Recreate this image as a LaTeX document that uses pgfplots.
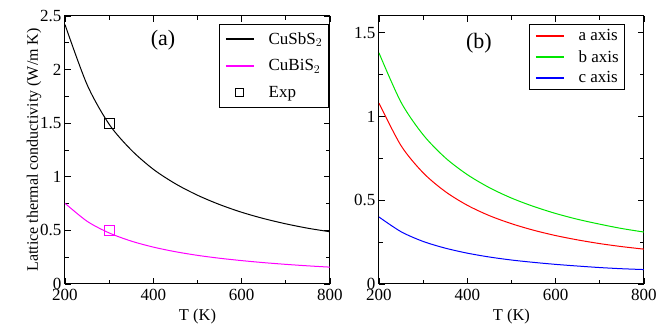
\documentclass[border=0pt]{standalone}
\usepackage{pgfplots}
\pgfplotsset{compat=1.18}
\usepackage{fontspec}
\setmainfont{Liberation Serif}
\definecolor{mag}{RGB}{255,0,255}
\definecolor{rr}{RGB}{255,0,0}
\definecolor{gg}{RGB}{0,230,0}
\definecolor{bb}{RGB}{0,0,255}
\begin{document}
\begin{tikzpicture}[x=1pt,y=1pt]
\pgfplotsset{
  every axis/.append style={
    scale only axis,
    width=265pt, height=268pt,
    xmin=200, xmax=800,
    xtick={200,400,600,800},
    minor xtick={300,500,700},
    tick align=inside,
    major tick length=6pt, minor tick length=4pt,
    tick style={black, line width=0.8pt},
    axis line style={line width=1pt},
    ticklabel style={font=\fontsize{17}{19}\selectfont},
    xticklabel style={yshift=-2pt},
    label style={font=\fontsize{16.5}{18}\selectfont},
    /pgf/number format/assume math mode=true,
    xlabel={T (K)},
    xlabel style={yshift=-1pt},
    legend cell align=left,
    legend style={font=\fontsize{17}{19}\selectfont, inner xsep=4pt, inner ysep=1pt, line width=0.8pt},
  }
}
\begin{axis}[
  at={(65pt,46pt)}, anchor=south west,
  ymin=0, ymax=2.5,
  ytick={0,0.5,1,1.5,2,2.5},
  yticklabels={0,0.5,1,1.5,2,2.5},
  minor ytick={0.25,0.75,1.25,1.75,2.25},
  ylabel={Lattice thermal conductivity (W/m K)},
  ylabel style={yshift=-8pt, font=\fontsize{16}{18}\selectfont},
  legend style={at={(0.995,0.97)}, anchor=north east},
  legend image code/.code={\path[draw=none] (-2pt,-13.5pt) rectangle (28pt,13.5pt); \draw[#1, line width=1.5pt] (0pt,0pt) -- (28pt,0pt);},
]
\addplot[black, line width=1pt, smooth] coordinates {
(200,2.42)(250,1.86)(300,1.49)(350,1.25)(400,1.07)(450,0.935)(500,0.828)(550,0.741)(600,0.669)(650,0.610)(700,0.561)(750,0.520)(800,0.487)};
\addlegendentry{\hspace{12pt}CuSbS$_2$}
\addplot[mag, line width=1pt, smooth] coordinates {
(200,0.753)(250,0.585)(300,0.476)(350,0.400)(400,0.344)(450,0.301)(500,0.267)(550,0.240)(600,0.218)(650,0.199)(700,0.183)(750,0.169)(800,0.157)};
\addlegendentry{\hspace{12pt}CuBiS$_2$}
\addplot[black, only marks, mark=square, mark size=5pt, mark options={line width=0.8pt},
  legend image code/.code={\path[draw=none] (-2pt,-13.5pt) rectangle (28pt,13.5pt); \draw[black, line width=1pt] (10pt,-4pt) rectangle (18pt,4pt);}] coordinates {(300,1.5)};
\addlegendentry{\hspace{12pt}Exp}
\addplot[mag, only marks, mark=square, mark size=5pt, mark options={line width=0.8pt}, forget plot] coordinates {(300,0.5)};
\node[font=\fontsize{22}{24}\selectfont] at (rel axis cs:0.37,0.91) {(a)};
\end{axis}
\begin{axis}[
  at={(379pt,46pt)}, anchor=south west,
  ymin=0, ymax=1.6,
  ytick={0,0.5,1,1.5},
  yticklabels={0,0.5,1,1.5},
  minor ytick={0.25,0.75,1.25},
  legend style={at={(0.929,0.97)}, anchor=north east},
  legend image code/.code={\path[draw=none] (-2pt,-10.5pt) rectangle (28pt,10.5pt); \draw[#1, line width=1.5pt] (0pt,0pt) -- (28pt,0pt);},
]
\addplot[rr, line width=1pt, smooth] coordinates {
(200,1.08)(250,0.826)(300,0.664)(350,0.552)(400,0.470)(450,0.408)(500,0.360)(550,0.321)(600,0.289)(650,0.263)(700,0.241)(750,0.223)(800,0.208)};
\addlegendentry{\hspace{12pt}a axis}
\addplot[gg, line width=1pt, smooth] coordinates {
(200,1.38)(250,1.085)(300,0.891)(350,0.754)(400,0.653)(450,0.575)(500,0.513)(550,0.463)(600,0.421)(650,0.386)(700,0.357)(750,0.331)(800,0.310)};
\addlegendentry{\hspace{12pt}b axis}
\addplot[bb, line width=1pt, smooth] coordinates {
(200,0.40)(250,0.312)(300,0.254)(350,0.214)(400,0.184)(450,0.161)(500,0.143)(550,0.129)(600,0.117)(650,0.107)(700,0.098)(750,0.091)(800,0.086)};
\addlegendentry{\hspace{12pt}c axis}
\node[font=\fontsize{22}{24}\selectfont] at (rel axis cs:0.377,0.90) {(b)};
\end{axis}
\path (0,0) rectangle (660,330);
\end{tikzpicture}
\end{document}
